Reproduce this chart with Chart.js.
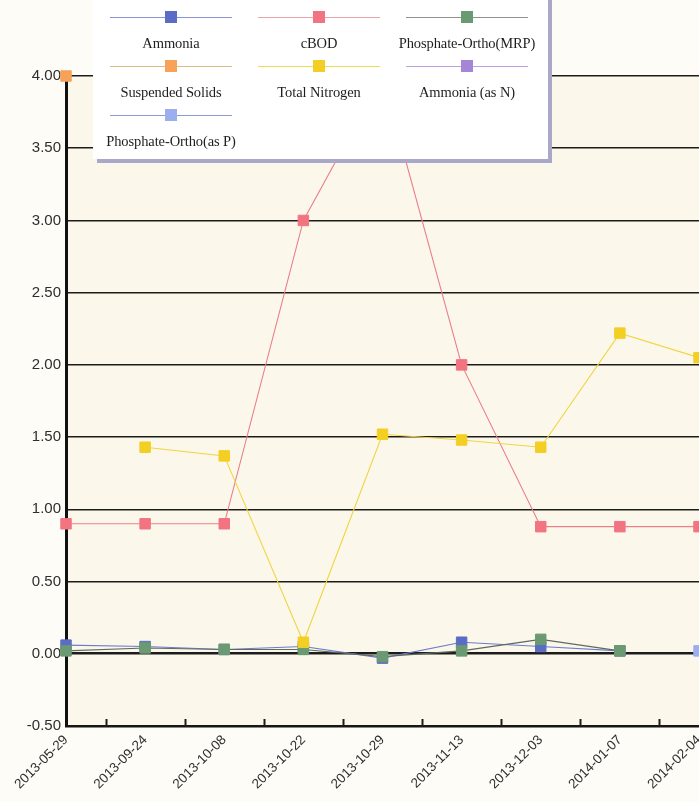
<!DOCTYPE html>
<html>
<head>
<meta charset="utf-8">
<script src="https://cdn.jsdelivr.net/npm/chart.js@4.4.1/dist/chart.umd.min.js"></script>
<style>
  html, body { margin: 0; padding: 0; background: #fdfcf7; overflow: hidden; }
  #wrap { position: relative; width: 699px; height: 802px; overflow: hidden; }
  #wrap canvas { position: absolute; left: 0; top: 0; }
  #legend {
    position: absolute; left: 93px; top: -8px; width: 455px; height: 167px;
    background: #ffffff; box-shadow: 4px 4px 0 #aaa8c8;
    box-sizing: border-box; padding: 19px 0 0 4px;
    display: grid; grid-template-columns: repeat(3, 148px); grid-auto-rows: 49px;
    font-family: "Liberation Serif", "Times New Roman", serif; font-size: 14.5px; color: #1e1e1e;
  }
  .item { position: relative; text-align: center; }
  .sw { position: relative; height: 12px; }
  .sw .ln { position: absolute; left: 13px; top: 6px; width: 122px; height: 1px; }
  .sw .mk { position: absolute; left: 68px; top: 0px; width: 12px; height: 12px; }
  .lbl { margin-top: 12px; line-height: 17px; white-space: nowrap; letter-spacing: -0.1px; }
</style>
</head>
<body>
<div id="wrap">
  <canvas id="c" width="699" height="802"></canvas>
  <div id="legend"></div>
</div>
<script>
// Sampling dates
const categories = ['2013-05-29', '2013-09-24', '2013-10-08', '2013-10-22', '2013-10-29',
                    '2013-11-13', '2013-12-03', '2014-01-07', '2014-02-04'];

// Results in mg/L per analyte
const ammonia         = [0.06, 0.05, 0.03, 0.05, -0.03, 0.08, 0.05, 0.02, null];
const cBOD            = [0.90, 0.90, 0.90, 3.00, 4.00, 2.00, 0.88, 0.88, 0.88];
const phosphateMRP    = [0.02, 0.04, 0.03, 0.03, -0.02, 0.02, 0.10, 0.02, null];
const suspendedSolids = [4.00, null, null, null, null, null, null, null, null];
const totalNitrogen   = [null, 1.43, 1.37, 0.08, 1.52, 1.48, 1.43, 2.22, 2.05];
const ammoniaAsN      = [null, null, null, null, null, null, null, null, null];
const phosphateAsP    = [null, null, null, null, null, null, null, null, 0.02];

const seriesNames = ['Ammonia', 'cBOD', 'Phosphate-Ortho(MRP)', 'Suspended Solids',
                     'Total Nitrogen', 'Ammonia (as N)', 'Phosphate-Ortho(as P)'];

// Axis range
const yMin = -0.5, yMax = 4.0, yStep = 0.5;

const styles = [
  { marker: '#5a6cc6', line: '#6d7bcc', legendLine: '#8c92d8' },
  { marker: '#f27480', line: '#ea7f8a', legendLine: '#f0a2aa' },
  { marker: '#6b9a72', line: '#5d6a5e', legendLine: '#8e948c' },
  { marker: '#f6a258', line: '#e3b272', legendLine: '#e2ba84' },
  { marker: '#f3cf24', line: '#f1d440', legendLine: '#f0dc52' },
  { marker: '#a486d4', line: '#b198dc', legendLine: '#baa4e0' },
  { marker: '#9cadf0', line: '#8595d6', legendLine: '#8e9ad8' }
];

const values = [ammonia, cBOD, phosphateMRP, suspendedSolids, totalNitrogen, ammoniaAsN, phosphateAsP];

const datasets = values.map((v, i) => ({
  label: seriesNames[i],
  data: v,
  borderColor: styles[i].line,
  borderWidth: 1.1,
  backgroundColor: styles[i].marker,
  pointBackgroundColor: styles[i].marker,
  pointBorderColor: styles[i].marker,
  pointBorderWidth: 1,
  pointStyle: 'rect',
  pointRadius: 7.4,
  pointHoverRadius: 7.4,
  tension: 0,
  spanGaps: false,
  clip: false,
  order: values.length - i
}));

// Cream plot background and inward tick marks between categories
const plotDecor = {
  id: 'plotDecor',
  beforeDraw(chart) {
    const a = chart.chartArea, ctx = chart.ctx;
    ctx.save();
    ctx.fillStyle = '#fbf8eb';
    ctx.fillRect(a.left, a.top, a.right - a.left, a.bottom - a.top);
    ctx.restore();
  },
  afterDraw(chart) {
    const x = chart.scales.x, a = chart.chartArea, ctx = chart.ctx;
    ctx.save();
    ctx.strokeStyle = '#1b1b1b';
    ctx.lineWidth = 2;
    for (let i = 0; i < categories.length - 1; i++) {
      const px = Math.round((x.getPixelForTick(i) + x.getPixelForTick(i + 1)) / 2) + 0.5;
      ctx.beginPath();
      ctx.moveTo(px, a.bottom);
      ctx.lineTo(px, a.bottom - 7);
      ctx.stroke();
    }
    ctx.restore();
  }
};

const chart = new Chart(document.getElementById('c'), {
  type: 'line',
  data: { labels: categories, datasets },
  plugins: [plotDecor],
  options: {
    responsive: false,
    animation: false,
    events: [],
    layout: { autoPadding: false, padding: { top: 76, right: 0, left: 0, bottom: 0 } },
    plugins: { legend: { display: false }, tooltip: { enabled: false }, title: { display: false } },
    scales: {
      x: {
        offset: false,
        grid: { display: false, drawTicks: false },
        border: { display: true, color: '#161616', width: 2.5 },
        ticks: {
          autoSkip: false, maxRotation: 45, minRotation: 45, padding: 6,
          color: '#2e2e2e',
          font: { family: '"Liberation Sans", Arial, sans-serif', size: 13.5 }
        },
        afterFit(s) { s.height = 76; s.paddingRight = 0; s.paddingLeft = 0; }
      },
      y: {
        min: yMin, max: yMax,
        grid: {
          drawTicks: false,
          color: '#1c1c1c',
          lineWidth: (c) => (c.tick && c.tick.value === 0 ? 2.6 : 1.5)
        },
        border: { display: true, color: '#111111', width: 3 },
        ticks: {
          stepSize: yStep, padding: 5,
          color: '#2e2e2e',
          font: { family: '"Liberation Sans", Arial, sans-serif', size: 15 },
          callback: (v) => Number(v).toFixed(2)
        },
        afterFit(s) { s.width = 66; }
      }
    }
  }
});

// Legend panel built from the chart's datasets
const legend = document.getElementById('legend');
chart.data.datasets.forEach((ds, i) => {
  const item = document.createElement('div');
  item.className = 'item';
  const sw = document.createElement('div');
  sw.className = 'sw';
  const ln = document.createElement('div');
  ln.className = 'ln';
  ln.style.background = styles[i].legendLine;
  const mk = document.createElement('div');
  mk.className = 'mk';
  mk.style.background = ds.backgroundColor;
  sw.appendChild(ln);
  sw.appendChild(mk);
  const lbl = document.createElement('div');
  lbl.className = 'lbl';
  lbl.textContent = ds.label;
  item.appendChild(sw);
  item.appendChild(lbl);
  legend.appendChild(item);
});
</script>
</body>
</html>
